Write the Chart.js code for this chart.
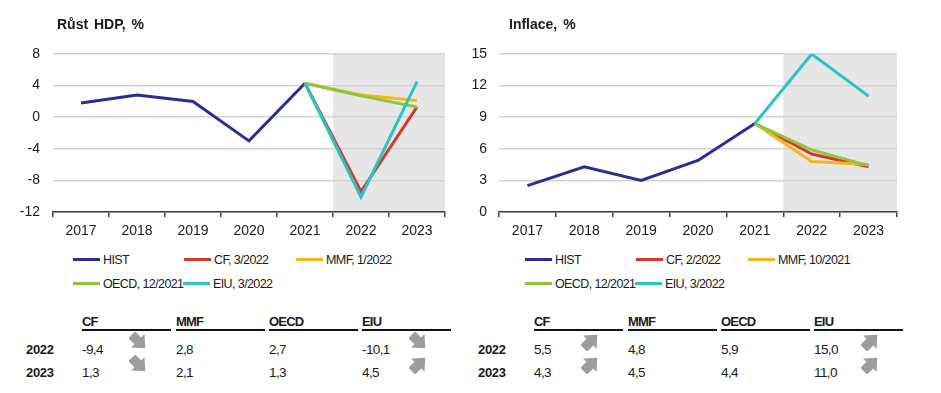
<!DOCTYPE html>
<html>
<head>
<meta charset="utf-8">
<script src="https://cdn.jsdelivr.net/npm/chart.js@4"></script>
<style>
  body { margin: 0; background: #fff; font-family: "Liberation Sans", Arial, sans-serif; color: #1a1a1a; }
  #page { position: relative; width: 941px; height: 393px; overflow: hidden; }
  .box { position: absolute; top: 0; height: 245px; }
  .title { position: absolute; top: 16px; font-weight: bold; font-size: 14px; word-spacing: 2px; }
  .leg { position: absolute; font-size: 12.5px; letter-spacing: -0.6px; white-space: nowrap; line-height: 16px; }
  .leg i { display: inline-block; width: 27px; height: 3px; vertical-align: middle; margin-right: 3px; position: relative; top: -1px; }
  .cell { position: absolute; white-space: nowrap; line-height: 16px; }
  .hdr { font-weight: bold; font-size: 13px; letter-spacing: -0.8px; }
  .rule { position: absolute; height: 2px; background: #111; }
  .yr { font-weight: bold; font-size: 13px; letter-spacing: -0.3px; }
  .val { font-size: 13.5px; letter-spacing: -0.6px; }
</style>
</head>
<body>
<div id="page">
  <div class="box" style="left:0;width:470px"><canvas id="gdpChart"></canvas></div>
  <div class="box" style="left:470px;width:471px"><canvas id="infChart"></canvas></div>
  <div class="title" style="left:57px">Růst HDP, %</div>
  <div class="title" style="left:509px">Inflace, %</div>
</div>
<script>
// categories
const years = ["2017", "2018", "2019", "2020", "2021", "2022", "2023"];

// GDP growth, %
const gdpHist = [1.8, 2.8, 2.0, -3.0, 4.3, null, null];
const gdpCF   = [null, null, null, null, 4.3, -9.4, 1.3];
const gdpMMF  = [null, null, null, null, 4.3, 2.8, 2.1];
const gdpOECD = [null, null, null, null, 4.3, 2.7, 1.3];
const gdpEIU  = [null, null, null, null, 4.3, -10.1, 4.5];
const gdpTicks = [-12, -8, -4, 0, 4, 8];
const gdpLabels = ["HIST", "CF, 3/2022", "MMF, 1/2022", "OECD, 12/2021", "EIU, 3/2022"];
const gdpArrows2022 = ["down", null, null, "down"];
const gdpArrows2023 = ["down", null, null, "up"];

// inflation, %
const infHist = [2.5, 4.3, 3.0, 4.9, 8.4, null, null];
const infCF   = [null, null, null, null, 8.4, 5.5, 4.3];
const infMMF  = [null, null, null, null, 8.4, 4.8, 4.5];
const infOECD = [null, null, null, null, 8.4, 5.9, 4.4];
const infEIU  = [null, null, null, null, 8.4, 15.0, 11.0];
const infTicks = [0, 3, 6, 9, 12, 15];
const infLabels = ["HIST", "CF, 2/2022", "MMF, 10/2021", "OECD, 12/2021", "EIU, 3/2022"];
const infArrows2022 = ["up", null, null, "up"];
const infArrows2023 = ["up", null, null, "up"];

const sources = ["CF", "MMF", "OECD", "EIU"];
const colors = ["#2b2d96", "#d6392a", "#f6b619", "#8cc63e", "#2bc3c6"];

// grey band over the forecast years
const forecastShade = {
  id: "forecastShade",
  beforeDraw(chart) {
    const x = chart.scales.x, a = chart.chartArea, c = chart.ctx;
    const left = (x.getPixelForValue(4) + x.getPixelForValue(5)) / 2;
    c.save();
    c.fillStyle = "#e6e6e6";
    c.fillRect(left, a.top, a.right - left, a.bottom - a.top);
    c.restore();
  }
};

function makeChart(id, series, ticks, yWidth, padRight, labelPad) {
  const datasets = series.map((d, i) => ({
    data: d,
    borderColor: colors[i],
    borderWidth: 3,
    pointRadius: 0,
    tension: 0,
    order: 5 - i
  }));
  new Chart(document.getElementById(id), {
    type: "line",
    data: { labels: years, datasets: datasets },
    plugins: [forecastShade],
    options: {
      responsive: true,
      maintainAspectRatio: false,
      animation: false,
      layout: { padding: { top: 54, right: padRight, left: 0, bottom: 0 } },
      plugins: { legend: { display: false }, tooltip: { enabled: false } },
      scales: {
        x: {
          offset: true,
          afterFit: (s) => { s.height = 33; },
          grid: { offset: true, drawOnChartArea: false, tickLength: 5, color: "#404040", lineWidth: 1.5 },
          border: { color: "#404040", width: 1.5 },
          ticks: { color: "#1a1a1a", font: { family: "Liberation Sans", size: 14 }, padding: 6, maxRotation: 0 }
        },
        y: {
          min: ticks[0],
          max: ticks[ticks.length - 1],
          afterFit: (s) => { s.width = yWidth; },
          afterBuildTicks: (s) => { s.ticks = ticks.map(v => ({ value: v })); },
          grid: { drawTicks: false, color: "#d4d4d4", lineWidth: 1.5 },
          border: { display: false },
          ticks: { color: "#1a1a1a", font: { family: "Liberation Sans", size: 14 }, padding: labelPad }
        }
      }
    }
  });
}

makeChart("gdpChart", [gdpHist, gdpCF, gdpMMF, gdpOECD, gdpEIU], gdpTicks, 53, 25, 13);
makeChart("infChart", [infHist, infCF, infMMF, infOECD, infEIU], infTicks, 29, 44, 12);

const page = document.getElementById("page");
function add(cls, html, left, top, extra) {
  const el = document.createElement("div");
  el.className = cls;
  el.innerHTML = html;
  el.style.left = left + "px";
  el.style.top = top + "px";
  if (extra) Object.assign(el.style, extra);
  page.appendChild(el);
  return el;
}

function legend(labels, x0) {
  const xs = [0, 111, 223, 0, 110];
  labels.forEach((lab, i) => {
    add("leg", '<i style="background:' + colors[i] + '"></i>' + lab, x0 + xs[i], i < 3 ? 252 : 276);
  });
}
legend(gdpLabels, 73);
legend(infLabels, 525);

function arrow(dir) {
  const rot = dir === "down" ? 45 : -45;
  return '<svg width="19" height="19" viewBox="0 0 20 20"><polygon transform="rotate(' + rot +
    ' 10 10)" points="0,5 9,5 9,0 20,10 9,20 9,15 0,15" fill="#9d9d9d"/></svg>';
}

function fmt(v) { return v.toFixed(1).replace(".", ","); }

function table(x0, yearX, series, arrows2022, arrows2023) {
  const colX = [0, 94, 187, 280];
  sources.forEach((s, i) => {
    add("cell hdr", s, x0 + colX[i], 314);
    add("rule", "", x0 + colX[i], 329, { width: "89px" });
    add("cell val", fmt(series[i][5]), x0 + colX[i], 342);
    add("cell val", fmt(series[i][6]), x0 + colX[i], 365);
    if (arrows2022[i]) add("cell", arrow(arrows2022[i]), x0 + colX[i] + 47, 332);
    if (arrows2023[i]) add("cell", arrow(arrows2023[i]), x0 + colX[i] + 47, 355);
  });
  add("cell yr", "2022", yearX, 342);
  add("cell yr", "2023", yearX, 365);
}
table(82, 26, [gdpCF, gdpMMF, gdpOECD, gdpEIU], gdpArrows2022, gdpArrows2023);
table(534, 478, [infCF, infMMF, infOECD, infEIU], infArrows2022, infArrows2023);
</script>
</body>
</html>
